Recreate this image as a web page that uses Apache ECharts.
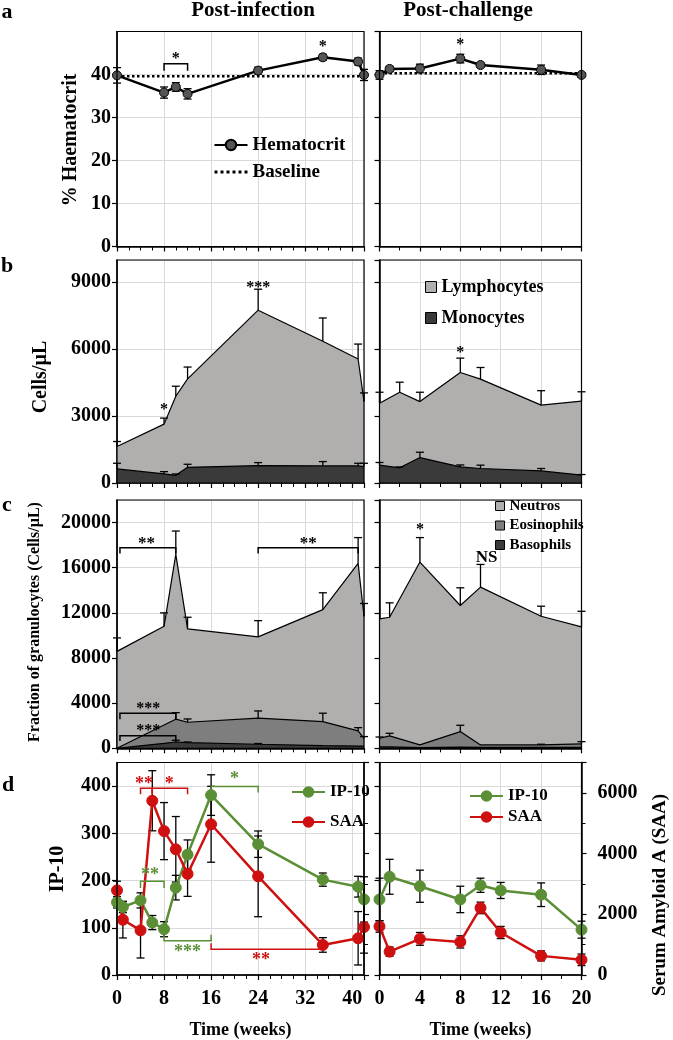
<!DOCTYPE html>
<html><head><meta charset="utf-8">
<script src="https://cdn.jsdelivr.net/npm/echarts@6/dist/echarts.min.js"></script>
<style>html,body{margin:0;padding:0;background:#fff}#c{width:673px;height:1040px}</style>
</head><body><div id="c"></div>
<script>
// ---------------- DATA ----------------
// Panel a: haematocrit
const hctWeeksL = [0, 8, 10, 12, 24, 35, 41, 42];
const hctL      = [39.8, 35.8, 37.1, 35.5, 40.9, 44.0, 43.0, 39.9];
const hctErrL   = [1.8, 1.3, 1.0, 1.2, 0.8, 0.7, 0.8, 1.3];
const hctWeeksR = [0, 1, 4, 8, 10, 16, 20];
const hctR      = [39.9, 41.3, 41.4, 43.7, 42.2, 41.1, 39.9];
const hctErrR   = [1.0, 0.6, 1.0, 1.0, 0.5, 1.1, 0.5];
const baseWeeksL = [0, 42];
const baseWeeksR = [0, 20];
const baselineL = 39.6;
const baselineR = 40.3;

// Panel b: lymphocytes / monocytes (cells/µL)
const bWeeksL   = [0, 8, 10, 12, 24, 35, 41, 42];
const lymphL    = [1640, 2640, 3890, 4670, 7750, 6360, 5560, 3660];
const lymphTopL = [1860, 2910, 4340, 5200, 8690, 7400, 6230, 4040];
const monoL     = [630, 405, 345, 705, 780, 765, 765, 735];
const monoTopL  = [885, 510, 405, 840, 915, 960, 885, 885];
const bWeeksR   = [0, 2, 4, 8, 10, 16, 20];
const lymphR    = [3580, 4070, 3650, 4955, 4660, 3490, 3670];
const lymphTopR = [4070, 4520, 4070, 5600, 5180, 4140, 4090];
const monoR     = [800, 680, 1140, 720, 650, 540, 350];
const monoTopR  = [920, 720, 1380, 810, 800, 650, 380];

// Panel c: granulocytes (cells/µL)
const cWeeksL   = [0, 8, 10, 12, 24, 35, 41, 42];
const neutL     = [8590, 10810, 17180, 10580, 9870, 12290, 16380, 11700];
const neutTopL  = [9780, 12000, 19250, 11610, 11310, 13780, 18670, 12830];
const eosL      = [0, 2060, 2580, 2310, 2670, 2370, 1540, 890];
const eosTopL   = [0, 2060, 3160, 2600, 3310, 3110, 1830, 1040];
const basoL     = [0, 440, 560, 500, 360, 240, 200, 200];
const basoTopL  = [0, 440, 710, 560, 420, 240, 200, 200];
const cWeeksR   = [0, 1, 4, 8, 10, 16, 20];
const neutR     = [11470, 11610, 16500, 12650, 14280, 11700, 10760];
const neutTopR  = [11470, 12890, 18670, 14220, 16290, 12590, 12140];
const eosR      = [890, 1100, 300, 1480, 300, 300, 390];
const eosTopR   = [1000, 1330, 300, 2040, 300, 360, 590];
const basoR     = [120, 120, 60, 100, 80, 80, 80];

// Panel d: IP-10 (left axis) and SAA (right axis)
const dWeeksL  = [0, 1, 4, 6, 8, 10, 12, 16, 24, 35, 41, 42];
const ip10L    = [154, 144, 158, 111, 97, 185, 255, 381, 277, 202, 187, 160];
const ip10ErrL = [12, 12, 16, 15, 16, 26, 31, 43, 28, 14, 22, 48];
const saaL     = [2790, 1820, 1470, 5740, 4740, 4140, 3330, 4965, 3250, 990, 1210, 1580];
const saaErrL  = [300, 600, 910, 990, 940, 1080, 740, 1250, 1330, 240, 880, 860];
const dWeeksR  = [0, 1, 4, 8, 10, 12, 16, 20];
const ip10R    = [160, 208, 188, 160, 190, 179, 170, 96];
const ip10ErrR = [45, 37, 34, 28, 15, 17, 25, 18];
const saaR     = [1600, 770, 1190, 1090, 2210, 1400, 630, 500];
const saaErrR  = [190, 150, 210, 200, 190, 200, 165, 190];

// Significance annotations: brackets [x1, x2, barY, legY], labels [x, y, text, size]
const brA_L = [[8, 12, 42.5, 40.9]];
const lbA_L = [[10, 44.2, '*', 16], [35, 46.9, '*', 16]];
const lbA_R = [[8, 47.3, '*', 16]];
const lbB_L = [[8, 3370, '*', 16], [24, 8840, '***', 16]];
const lbB_R = [[8, 5910, '*', 16]];
const brC_L = [[0.5, 10, 17780, 17270], [24, 41, 17780, 17270], [0.5, 10, 3110, 2580], [0.5, 10, 1120, 650]];
const lbC_L = [[5, 18310, '**', 17], [32.5, 18310, '**', 17], [5.3, 3640, '***', 16], [5.3, 1690, '***', 16]];
const lbC_R = [[4, 19560, '*', 16], [10.6, 17090, 'NS', 17]];
const brD_red   = [[4, 6, 395.7, 383], [6, 12, 395.7, 383], [16, 35, 54.6, 67.4]];
const lbD_red   = [[4.6, 409, '**', 18], [8.9, 409, '*', 18], [24.5, 35.5, '**', 18]];
const brD_green = [[16, 24, 399, 386.6], [4, 8, 198.6, 184], [8, 16, 72.3, 85]];
const lbD_green = [[20, 418.5, '*', 18], [5.6, 215, '**', 18], [12, 51.7, '***', 18]];

// ---------------- STYLE / LAYOUT ----------------
const FONT = '"Liberation Serif", "Times New Roman", serif';
const GREEN = '#5b8f36', RED = '#cf1010';
const LIGHT = '#b1aeae', MID = '#7e7e7e', DARK = '#3a3a3a';
const GRIDC = '#d9d9d9';
const colL = {left: 117, width: 247}, colR = {left: 379.5, width: 202};
const rows = [
  {top: 31.5, height: 215, max: 50, interval: 10},
  {top: 260, height: 223, max: 10000, interval: 3000},
  {top: 500, height: 248.3, max: 22000, interval: 4000},
  {top: 762.5, height: 212.5, max: 450, interval: 100}
];
const plain = v => String(v);

const pts = (xs, ys) => xs.map((x, i) => [x, ys[i]]);
const errSym = (xs, ys, es) => xs.map((x, i) => [x, ys[i] - es[i], ys[i] + es[i]]);
const errUp = (xs, ys, tops) => xs.map((x, i) => [x, ys[i], tops[i]]);

const grids = [], xAxes = [], yAxes = [], frames = [];
rows.forEach((r, ri) => {
  [colL, colR].forEach((c, ci) => {
    const gi = ri * 2 + ci;
    const isL = ci === 0;
    grids.push({left: c.left, top: r.top, width: c.width, height: r.height, containLabel: false});
    frames.push({type: 'rect', silent: true, z: 50,
      shape: {x: c.left, y: r.top, width: c.width, height: r.height},
      style: {fill: 'none', stroke: '#000', lineWidth: 1.2}});
    xAxes.push({
      type: 'value', gridIndex: gi, min: 0, max: isL ? 42 : 20, interval: isL ? 8 : 4,
      axisLine: {show: true, onZero: false, lineStyle: {color: '#000', width: 1.5}},
      axisTick: {show: true, length: 5, lineStyle: {color: '#000', width: 1.2}},
      minorTick: {show: true, splitNumber: isL ? 4 : 2, length: 4, lineStyle: {color: '#000', width: 1}},
      splitLine: {show: true, lineStyle: {color: GRIDC, width: 1}},
      axisLabel: {show: ri === 3, showMaxLabel: !isL, margin: 14, color: '#000', formatter: plain,
        fontFamily: FONT, fontWeight: 'bold', fontSize: 20}
    });
    yAxes.push({
      type: 'value', gridIndex: gi, min: 0, max: r.max, interval: r.interval,
      axisLine: {show: true, onZero: false, lineStyle: {color: '#000', width: 1.5}},
      axisTick: {show: true, length: 5, lineStyle: {color: '#000', width: 1.2}},
      splitLine: {show: true, lineStyle: {color: GRIDC, width: 1}},
      axisLabel: {show: isL, showMaxLabel: false, margin: 6, color: '#000', formatter: plain,
        fontFamily: FONT, fontWeight: 'bold', fontSize: 20}
    });
  });
});
// SAA axes (index 8: left panel, 9: right panel)
[6, 7].forEach(gi => {
  yAxes.push({
    type: 'value', gridIndex: gi, position: 'right', min: 0, max: 7000, interval: 2000,
    axisLine: {show: true, onZero: false, lineStyle: {color: '#000', width: 1.5}},
    axisTick: {show: true, length: 5, lineStyle: {color: '#000', width: 1.2}},
    minorTick: {show: true, splitNumber: 2, length: 4, lineStyle: {color: '#000', width: 1}},
    splitLine: {show: false},
    axisLabel: {show: gi === 7, showMaxLabel: false, margin: 16, color: '#000', formatter: plain,
      fontFamily: FONT, fontWeight: 'bold', fontSize: 20}
  });
});

// ---------------- SERIES BUILDERS ----------------
function errSeries(xi, yi, data, both, color, z) {
  return {
    type: 'custom', xAxisIndex: xi, yAxisIndex: yi, z: z, silent: true,
    encode: {x: 0, y: [1, 2]}, data: data, clip: false,
    renderItem: (params, api) => {
      const x = api.value(0), lo = api.value(1), hi = api.value(2);
      if (!(hi > lo)) return {type: 'group', children: []};
      const a = api.coord([x, lo]), b = api.coord([x, hi]), c = 4;
      const st = {stroke: color, lineWidth: 1.3};
      const ch = [
        {type: 'line', shape: {x1: a[0], y1: a[1], x2: b[0], y2: b[1]}, style: st},
        {type: 'line', shape: {x1: b[0] - c, y1: b[1], x2: b[0] + c, y2: b[1]}, style: st}
      ];
      if (both) ch.push({type: 'line', shape: {x1: a[0] - c, y1: a[1], x2: a[0] + c, y2: a[1]}, style: st});
      return {type: 'group', children: ch};
    }
  };
}
function annSeries(xi, yi, brackets, labels, color) {
  const data = brackets.map(b => [b[0], b[2]]).concat(labels.map(l => [l[0], l[1]]));
  return {
    type: 'custom', xAxisIndex: xi, yAxisIndex: yi, z: 20, silent: true, clip: false,
    encode: {x: 0, y: 1}, data: data,
    renderItem: (params, api) => {
      const i = params.dataIndex;
      if (i < brackets.length) {
        const b = brackets[i];
        const l1 = api.coord([b[0], b[3]]), p1 = api.coord([b[0], b[2]]);
        const p2 = api.coord([b[1], b[2]]), l2 = api.coord([b[1], b[3]]);
        return {type: 'polyline', shape: {points: [l1, p1, p2, l2]},
          style: {stroke: color, lineWidth: 1.5, fill: 'none'}};
      }
      const l = labels[i - brackets.length];
      const p = api.coord([l[0], l[1]]);
      return {type: 'text', x: p[0], y: p[1] + 2,
        style: {text: l[2], fill: color, font: 'bold ' + l[3] + 'px ' + FONT,
          align: 'center', verticalAlign: 'middle', textAlign: 'center', textVerticalAlign: 'middle'}};
    }
  };
}
function areaSeries(name, xi, yi, xs, ys, fill) {
  return {type: 'line', name: name, xAxisIndex: xi, yAxisIndex: yi, data: pts(xs, ys),
    symbol: 'none', z: 2, silent: true,
    lineStyle: {color: '#000', width: 1.2}, itemStyle: {color: fill},
    areaStyle: {color: fill, opacity: 1}};
}
function markerLine(name, xi, yi, xs, ys, color, size, lineColor, border) {
  return {type: 'line', name: name, xAxisIndex: xi, yAxisIndex: yi, data: pts(xs, ys),
    symbol: 'circle', symbolSize: size, showSymbol: true, z: 5, silent: true,
    lineStyle: {color: lineColor, width: 2.5},
    itemStyle: {color: color, borderColor: border, borderWidth: 1}};
}
function baseline(xi, yi, xs, v) {
  return {type: 'line', name: 'Baseline', xAxisIndex: xi, yAxisIndex: yi,
    data: xs.map(x => [x, v]), symbol: 'none', z: 3, silent: true,
    lineStyle: {color: '#000', width: 2.5, type: 'dotted'}, itemStyle: {color: '#000'}};
}

const series = [];
// a
series.push(baseline(0, 0, baseWeeksL, baselineL));
series.push(baseline(1, 1, baseWeeksR, baselineR));
series.push(errSeries(0, 0, errSym(hctWeeksL, hctL, hctErrL), true, '#000', 4));
series.push(errSeries(1, 1, errSym(hctWeeksR, hctR, hctErrR), true, '#000', 4));
series.push(markerLine('Hematocrit', 0, 0, hctWeeksL, hctL, '#555', 9, '#000', '#000'));
series.push(markerLine('Hematocrit', 1, 1, hctWeeksR, hctR, '#555', 9, '#000', '#000'));
series.push(annSeries(0, 0, brA_L, lbA_L, '#000'));
series.push(annSeries(1, 1, [], lbA_R, '#000'));
// b
series.push(areaSeries('Lymphocytes', 2, 2, bWeeksL, lymphL, LIGHT));
series.push(areaSeries('Monocytes', 2, 2, bWeeksL, monoL, DARK));
series.push(areaSeries('Lymphocytes', 3, 3, bWeeksR, lymphR, LIGHT));
series.push(areaSeries('Monocytes', 3, 3, bWeeksR, monoR, DARK));
series.push(errSeries(2, 2, errUp(bWeeksL, lymphL, lymphTopL), false, '#000', 6));
series.push(errSeries(2, 2, errUp(bWeeksL, monoL, monoTopL), false, '#000', 6));
series.push(errSeries(3, 3, errUp(bWeeksR, lymphR, lymphTopR), false, '#000', 6));
series.push(errSeries(3, 3, errUp(bWeeksR, monoR, monoTopR), false, '#000', 6));
series.push(annSeries(2, 2, [], lbB_L, '#000'));
series.push(annSeries(3, 3, [], lbB_R, '#000'));
// c
series.push(areaSeries('Neutros', 4, 4, cWeeksL, neutL, LIGHT));
series.push(areaSeries('Eosinophils', 4, 4, cWeeksL, eosL, MID));
series.push(areaSeries('Basophils', 4, 4, cWeeksL, basoL, DARK));
series.push(areaSeries('Neutros', 5, 5, cWeeksR, neutR, LIGHT));
series.push(areaSeries('Eosinophils', 5, 5, cWeeksR, eosR, MID));
series.push(areaSeries('Basophils', 5, 5, cWeeksR, basoR, DARK));
series.push(errSeries(4, 4, errUp(cWeeksL, neutL, neutTopL), false, '#000', 6));
series.push(errSeries(4, 4, errUp(cWeeksL, eosL, eosTopL), false, '#000', 6));
series.push(errSeries(4, 4, errUp(cWeeksL, basoL, basoTopL), false, '#000', 6));
series.push(errSeries(5, 5, errUp(cWeeksR, neutR, neutTopR), false, '#000', 6));
series.push(errSeries(5, 5, errUp(cWeeksR, eosR, eosTopR), false, '#000', 6));
series.push(annSeries(4, 4, brC_L, lbC_L, '#000'));
series.push(annSeries(5, 5, [], lbC_R, '#000'));
// d
series.push(errSeries(6, 6, errSym(dWeeksL, ip10L, ip10ErrL), true, '#000', 4));
series.push(errSeries(6, 8, errSym(dWeeksL, saaL, saaErrL), true, '#000', 4));
series.push(errSeries(7, 7, errSym(dWeeksR, ip10R, ip10ErrR), true, '#000', 4));
series.push(errSeries(7, 9, errSym(dWeeksR, saaR, saaErrR), true, '#000', 4));
series.push(markerLine('IP-10', 6, 6, dWeeksL, ip10L, GREEN, 11, GREEN, GREEN));
series.push(markerLine('SAA', 6, 8, dWeeksL, saaL, RED, 11, RED, RED));
series.push(markerLine('IP-10', 7, 7, dWeeksR, ip10R, GREEN, 11, GREEN, GREEN));
series.push(markerLine('SAA', 7, 9, dWeeksR, saaR, RED, 11, RED, RED));
series.push(annSeries(6, 6, brD_red, lbD_red, RED));
series.push(annSeries(6, 6, brD_green, lbD_green, GREEN));

// ---------------- LEGENDS ----------------
const legTxt = (size, lh) => ({color: '#000', fontFamily: FONT, fontWeight: 'bold', fontSize: size, lineHeight: lh});
const rectItem = (name, fill) => ({name: name, icon: 'rect', itemStyle: {color: fill, borderColor: '#000', borderWidth: 1}});
const legends = [
  {left: 213, top: 135, orient: 'vertical', padding: 0, itemGap: 7, itemWidth: 33, itemHeight: 13,
   selectedMode: false, textStyle: legTxt(19, 20),
   data: ['Hematocrit', {name: 'Baseline', itemStyle: {opacity: 0},
     lineStyle: {color: '#000', width: 3, type: 'dotted'}}]},
  {left: 425, top: 278, orient: 'vertical', padding: 0, itemGap: 13, itemWidth: 11, itemHeight: 11,
   selectedMode: false, textStyle: legTxt(18, 18),
   data: [rectItem('Lymphocytes', LIGHT), rectItem('Monocytes', DARK)]},
  {left: 495, top: 498, orient: 'vertical', padding: 0, itemGap: 3.5, itemWidth: 9, itemHeight: 9,
   selectedMode: false, textStyle: legTxt(15, 16),
   data: [rectItem('Neutros', LIGHT), rectItem('Eosinophils', MID), rectItem('Basophils', DARK)]},
  {left: 291, top: 783, orient: 'vertical', padding: 0, itemGap: 12, itemWidth: 33, itemHeight: 12,
   selectedMode: false, textStyle: legTxt(17, 18), data: ['IP-10', 'SAA']},
  {left: 469, top: 787, orient: 'vertical', padding: 0, itemGap: 3, itemWidth: 33, itemHeight: 12,
   selectedMode: false, textStyle: legTxt(17, 18), data: ['IP-10', 'SAA']}
];

// ---------------- TEXT ----------------
const txt = (x, y, text, size, rot) => ({
  type: 'text', x: x, y: y, rotation: rot ? Math.PI / 2 : 0, z: 100, silent: true,
  style: {text: text, fill: '#000', font: 'bold ' + size + 'px ' + FONT,
    align: 'center', verticalAlign: 'middle', textAlign: 'center', textVerticalAlign: 'middle'}
});
const texts = [
  txt(253, 11, 'Post-infection', 21), txt(468, 11, 'Post-challenge', 21),
  txt(7, 12, 'a', 22), txt(7, 266, 'b', 22), txt(7, 505, 'c', 22), txt(8, 785, 'd', 22),
  txt(70.5, 140, '% Haematocrit', 20, true),
  txt(41, 377, 'Cells/µL', 20, true),
  txt(35, 622, 'Fraction of granulocytes (Cells/µL)', 16, true),
  txt(57.5, 869, 'IP-10', 20, true),
  txt(660, 895, 'Serum Amyloid A (SAA)', 19, true),
  txt(colL.left + colL.width / 2, 1030, 'Time (weeks)', 18),
  txt(colR.left + colR.width / 2, 1030, 'Time (weeks)', 18)
];

const chart = echarts.init(document.getElementById('c'), null, {renderer: 'canvas'});
chart.setOption({
  animation: false,
  backgroundColor: '#fff',
  textStyle: {fontFamily: FONT},
  grid: grids, xAxis: xAxes, yAxis: yAxes,
  legend: legends,
  series: series,
  graphic: frames.concat(texts)
});
</script></body></html>
